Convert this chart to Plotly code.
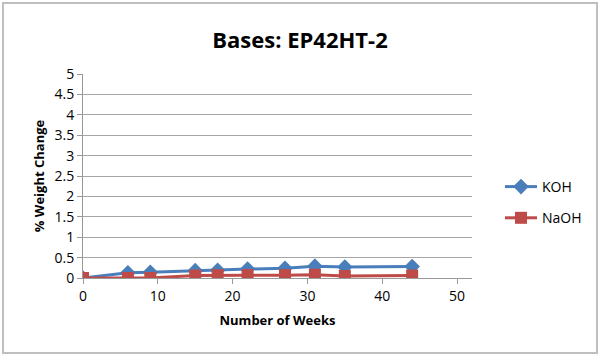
import plotly.graph_objects as go

weeks = [0, 6, 9, 15, 18, 22, 27, 31, 35, 44]
koh = [0, 0.13, 0.14, 0.18, 0.19, 0.22, 0.24, 0.29, 0.27, 0.28]
naoh = [0, 0.0, 0.0, 0.06, 0.07, 0.07, 0.07, 0.08, 0.05, 0.06]
y_ticks = [0, 0.5, 1, 1.5, 2, 2.5, 3, 3.5, 4, 4.5, 5]
x_ticks = [0, 10, 20, 30, 40, 50]

FONT = "Open Sans"

fig = go.Figure()
fig.add_trace(go.Scatter(x=weeks, y=koh, name="KOH", mode="lines+markers", legendgroup="a",
                         line=dict(color="#4A7EBB", width=3),
                         marker=dict(symbol="diamond", size=12, color="#4A7EBB")))
fig.add_trace(go.Scatter(x=weeks, y=naoh, name="NaOH", mode="lines+markers", legendgroup="b",
                         line=dict(color="#BE4B48", width=3),
                         marker=dict(symbol="square", size=12, color="#BE4B48")))

L, R, T, B = 83, 472, 74, 278
W, H = 600, 356
pw, ph = R - L, B - T

fig.update_layout(
    width=W, height=H,
    margin=dict(l=L, r=W - R, t=T, b=H - B, autoexpand=False),
    paper_bgcolor="white", plot_bgcolor="white",
    font=dict(family=FONT, size=14, color="black"),
    title=dict(text="<b>Bases: EP42HT-2</b>", x=0.5, xanchor="center",
               y=1 - 40 / H, yanchor="middle", font=dict(size=22, family=FONT)),
    xaxis=dict(range=[0, 52], tickvals=x_ticks, showgrid=False, zeroline=False,
               showline=True, linecolor="#999999", linewidth=1,
               ticks="outside", ticklen=5, tickcolor="#999999",
               title=dict(text="<b>Number of Weeks</b>", font=dict(size=13), standoff=12)),
    yaxis=dict(range=[0, 5], tickvals=y_ticks, showgrid=True, gridcolor="#A6A6A6",
               zeroline=False, showline=True, linecolor="#999999", linewidth=1,
               ticks="outside", ticklen=5, tickcolor="#999999",
               title=dict(text="<b>% Weight Change</b>", font=dict(size=13), standoff=6)),
    legend=dict(x=(500 - L) / pw, y=(B - 171) / ph, xanchor="left", yanchor="top",
                font=dict(size=14), tracegroupgap=10, itemwidth=32),
    showlegend=True,
)

fig.add_shape(type="rect", xref="paper", yref="paper",
              x0=(3 - L) / pw, x1=(597 - L) / pw,
              y0=(B - 353) / ph, y1=(B - 3) / ph,
              line=dict(color="#BFBFBF", width=2), fillcolor="rgba(0,0,0,0)", layer="below")

fig.write_html("out.html", config={"displayModeBar": False},
               post_script="document.body.style.margin='0';")
